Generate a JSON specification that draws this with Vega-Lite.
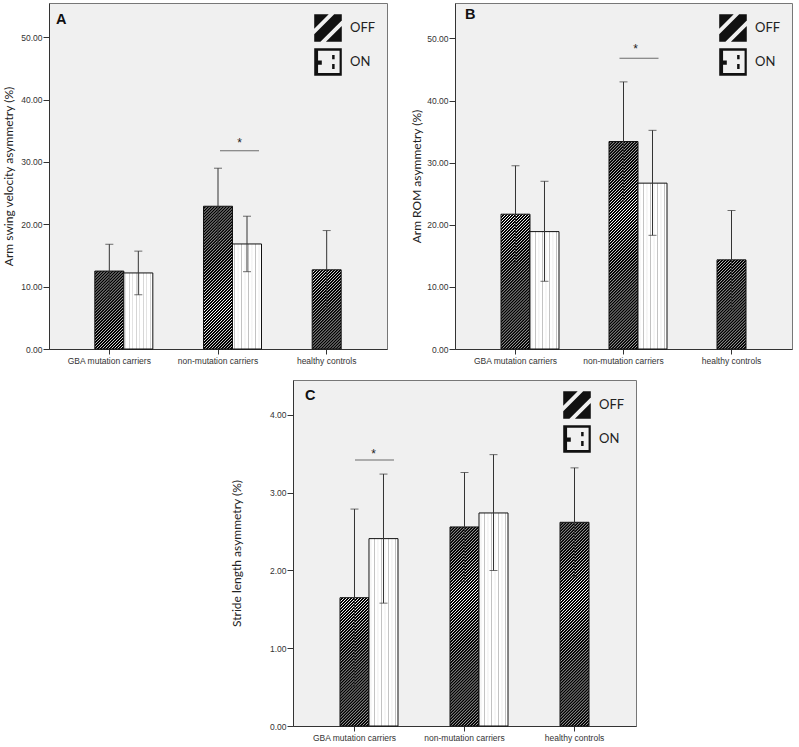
{
"$schema": "https://vega.github.io/schema/vega-lite/v6.json",
"background": "white",
"padding": {"left": 2, "top": 2, "right": 2, "bottom": 2},
"datasets": {
 "bars": [
  {"panel":"A","group":"GBA mutation carriers","cond":"OFF","mean":12.5,"lo":8.2,"hi":16.8},
  {"panel":"A","group":"GBA mutation carriers","cond":"ON","mean":12.2,"lo":8.7,"hi":15.7},
  {"panel":"A","group":"non-mutation carriers","cond":"OFF","mean":22.9,"lo":16.8,"hi":29.0},
  {"panel":"A","group":"non-mutation carriers","cond":"ON","mean":16.85,"lo":12.4,"hi":21.3},
  {"panel":"A","group":"healthy controls","cond":"OFF","mean":12.7,"lo":6.4,"hi":19.0},
  {"panel":"B","group":"GBA mutation carriers","cond":"OFF","mean":21.7,"lo":13.9,"hi":29.5},
  {"panel":"B","group":"GBA mutation carriers","cond":"ON","mean":18.9,"lo":10.9,"hi":27.0},
  {"panel":"B","group":"non-mutation carriers","cond":"OFF","mean":33.4,"lo":23.8,"hi":43.0},
  {"panel":"B","group":"non-mutation carriers","cond":"ON","mean":26.7,"lo":18.3,"hi":35.2},
  {"panel":"B","group":"healthy controls","cond":"OFF","mean":14.35,"lo":6.4,"hi":22.3},
  {"panel":"C","group":"GBA mutation carriers","cond":"OFF","mean":1.65,"lo":0.51,"hi":2.79},
  {"panel":"C","group":"GBA mutation carriers","cond":"ON","mean":2.41,"lo":1.58,"hi":3.24},
  {"panel":"C","group":"non-mutation carriers","cond":"OFF","mean":2.56,"lo":1.86,"hi":3.26},
  {"panel":"C","group":"non-mutation carriers","cond":"ON","mean":2.74,"lo":2.0,"hi":3.49},
  {"panel":"C","group":"healthy controls","cond":"OFF","mean":2.62,"lo":1.92,"hi":3.32}
 ],
 "sig": [
  {"panel":"A","group":"non-mutation carriers","line":31.8,"star":32.4,"label":"*"},
  {"panel":"B","group":"non-mutation carriers","line":46.8,"star":47.6,"label":"*"},
  {"panel":"C","group":"GBA mutation carriers","line":3.42,"star":3.45,"label":"*"}
 ]
},
"config": {
 "view": {"stroke": null},
 "axis": {"labelFont": "Liberation Sans", "labelFontSize": 8.5, "labelColor": "#333", "tickColor": "#333", "domainColor": "#333", "titleFont": "Lato", "titleFontSize": 12, "titleFontWeight": "normal", "titleColor": "#222", "grid": false},
 "axisX": {"labelAngle": 0, "tickSize": 5, "labelPadding": 2},
 "axisY": {"tickSize": 6, "labelPadding": 1},
 "legend": {"title": null, "orient": "top-right", "offset": 11, "padding": 0, "symbolSize": 760, "rowPadding": 6, "labelOffset": 8, "labelFont": "Lato", "labelFontSize": 13, "labelColor": "#222", "symbolStrokeWidth": 0},
 "title": {"anchor": "start", "frame": "group", "font": "Liberation Sans", "fontSize": 14.5, "fontWeight": "bold", "color": "#111", "baseline": "alphabetic"}
},
"spacing": 14,
"resolve": {"scale": {"shape": "independent"}, "legend": {"shape": "independent"}},
"vconcat": [
 {"hconcat": [
  {
   "width": 338, "height": 346,
   "view": {"fill": "#f0f0f0", "stroke": "#777"},
   "title": {"text": "A", "offset": -24, "dx": 7},
   "data": {"name": "bars"},
   "transform": [{"filter": "datum.panel === 'A'"}],
   "encoding": {"x": {"field": "group", "type": "nominal", "sort": ["GBA mutation carriers","non-mutation carriers","healthy controls"], "scale": {"paddingInner": 0, "paddingOuter": 0.055}, "axis": {"title": null}}},
   "layer": [
    {"transform": [{"filter": "datum.cond === 'OFF'"}], "mark": {"type": "bar", "width": 29, "color": {"gradient": "linear", "x1": 0, "y1": 0, "x2": 0.0905, "y2": 1.0765, "stops": [
{"offset":0,"color":"#000"},{"offset":0.004,"color":"#000"},{"offset":0.006,"color":"#fff"},{"offset":0.008,"color":"#000"},{"offset":0.012,"color":"#000"},{"offset":0.014,"color":"#fff"},{"offset":0.016,"color":"#000"},{"offset":0.02,"color":"#000"},{"offset":0.022,"color":"#fff"},{"offset":0.024,"color":"#000"},{"offset":0.028,"color":"#000"},{"offset":0.03,"color":"#fff"},{"offset":0.032,"color":"#000"},{"offset":0.036,"color":"#000"},{"offset":0.038,"color":"#fff"},{"offset":0.04,"color":"#000"},{"offset":0.044,"color":"#000"},{"offset":0.046,"color":"#fff"},{"offset":0.048,"color":"#000"},{"offset":0.052,"color":"#000"},{"offset":0.054,"color":"#fff"},{"offset":0.056,"color":"#000"},{"offset":0.06,"color":"#000"},{"offset":0.062,"color":"#fff"},{"offset":0.064,"color":"#000"},{"offset":0.068,"color":"#000"},{"offset":0.07,"color":"#fff"},{"offset":0.072,"color":"#000"},{"offset":0.076,"color":"#000"},{"offset":0.078,"color":"#fff"},{"offset":0.08,"color":"#000"},{"offset":0.084,"color":"#000"},{"offset":0.086,"color":"#fff"},{"offset":0.088,"color":"#000"},{"offset":0.092,"color":"#000"},{"offset":0.094,"color":"#fff"},{"offset":0.096,"color":"#000"},{"offset":0.1,"color":"#000"},{"offset":0.102,"color":"#fff"},{"offset":0.104,"color":"#000"},{"offset":0.108,"color":"#000"},{"offset":0.11,"color":"#fff"},{"offset":0.112,"color":"#000"},{"offset":0.116,"color":"#000"},{"offset":0.118,"color":"#fff"},{"offset":0.12,"color":"#000"},{"offset":0.124,"color":"#000"},{"offset":0.126,"color":"#fff"},{"offset":0.128,"color":"#000"},{"offset":0.132,"color":"#000"},{"offset":0.134,"color":"#fff"},{"offset":0.136,"color":"#000"},{"offset":0.14,"color":"#000"},{"offset":0.142,"color":"#fff"},{"offset":0.144,"color":"#000"},{"offset":0.148,"color":"#000"},{"offset":0.15,"color":"#fff"},{"offset":0.152,"color":"#000"},{"offset":0.156,"color":"#000"},{"offset":0.158,"color":"#fff"},{"offset":0.16,"color":"#000"},{"offset":0.164,"color":"#000"},{"offset":0.166,"color":"#fff"},{"offset":0.168,"color":"#000"},{"offset":0.172,"color":"#000"},{"offset":0.174,"color":"#fff"},{"offset":0.176,"color":"#000"},{"offset":0.18,"color":"#000"},{"offset":0.182,"color":"#fff"},{"offset":0.184,"color":"#000"},{"offset":0.188,"color":"#000"},{"offset":0.19,"color":"#fff"},{"offset":0.192,"color":"#000"},{"offset":0.196,"color":"#000"},{"offset":0.198,"color":"#fff"},
{"offset":0.2,"color":"#000"},{"offset":0.204,"color":"#000"},{"offset":0.206,"color":"#fff"},{"offset":0.208,"color":"#000"},{"offset":0.212,"color":"#000"},{"offset":0.214,"color":"#fff"},{"offset":0.216,"color":"#000"},{"offset":0.22,"color":"#000"},{"offset":0.222,"color":"#fff"},{"offset":0.224,"color":"#000"},{"offset":0.228,"color":"#000"},{"offset":0.23,"color":"#fff"},{"offset":0.232,"color":"#000"},{"offset":0.236,"color":"#000"},{"offset":0.238,"color":"#fff"},{"offset":0.24,"color":"#000"},{"offset":0.244,"color":"#000"},{"offset":0.246,"color":"#fff"},{"offset":0.248,"color":"#000"},{"offset":0.252,"color":"#000"},{"offset":0.254,"color":"#fff"},{"offset":0.256,"color":"#000"},{"offset":0.26,"color":"#000"},{"offset":0.262,"color":"#fff"},{"offset":0.264,"color":"#000"},{"offset":0.268,"color":"#000"},{"offset":0.27,"color":"#fff"},{"offset":0.272,"color":"#000"},{"offset":0.276,"color":"#000"},{"offset":0.278,"color":"#fff"},{"offset":0.28,"color":"#000"},{"offset":0.284,"color":"#000"},{"offset":0.286,"color":"#fff"},{"offset":0.288,"color":"#000"},{"offset":0.292,"color":"#000"},{"offset":0.294,"color":"#fff"},{"offset":0.296,"color":"#000"},{"offset":0.3,"color":"#000"},{"offset":0.302,"color":"#fff"},{"offset":0.304,"color":"#000"},{"offset":0.308,"color":"#000"},{"offset":0.31,"color":"#fff"},{"offset":0.312,"color":"#000"},{"offset":0.316,"color":"#000"},{"offset":0.318,"color":"#fff"},{"offset":0.32,"color":"#000"},{"offset":0.324,"color":"#000"},{"offset":0.326,"color":"#fff"},{"offset":0.328,"color":"#000"},{"offset":0.332,"color":"#000"},{"offset":0.334,"color":"#fff"},{"offset":0.336,"color":"#000"},{"offset":0.34,"color":"#000"},{"offset":0.342,"color":"#fff"},{"offset":0.344,"color":"#000"},{"offset":0.348,"color":"#000"},{"offset":0.35,"color":"#fff"},{"offset":0.352,"color":"#000"},{"offset":0.356,"color":"#000"},{"offset":0.358,"color":"#fff"},{"offset":0.36,"color":"#000"},{"offset":0.364,"color":"#000"},{"offset":0.366,"color":"#fff"},{"offset":0.368,"color":"#000"},{"offset":0.372,"color":"#000"},{"offset":0.374,"color":"#fff"},{"offset":0.376,"color":"#000"},{"offset":0.38,"color":"#000"},{"offset":0.382,"color":"#fff"},{"offset":0.384,"color":"#000"},{"offset":0.388,"color":"#000"},{"offset":0.39,"color":"#fff"},{"offset":0.392,"color":"#000"},{"offset":0.396,"color":"#000"},{"offset":0.398,"color":"#fff"},
{"offset":0.4,"color":"#000"},{"offset":0.404,"color":"#000"},{"offset":0.406,"color":"#fff"},{"offset":0.408,"color":"#000"},{"offset":0.412,"color":"#000"},{"offset":0.414,"color":"#fff"},{"offset":0.416,"color":"#000"},{"offset":0.42,"color":"#000"},{"offset":0.422,"color":"#fff"},{"offset":0.424,"color":"#000"},{"offset":0.428,"color":"#000"},{"offset":0.43,"color":"#fff"},{"offset":0.432,"color":"#000"},{"offset":0.436,"color":"#000"},{"offset":0.438,"color":"#fff"},{"offset":0.44,"color":"#000"},{"offset":0.444,"color":"#000"},{"offset":0.446,"color":"#fff"},{"offset":0.448,"color":"#000"},{"offset":0.452,"color":"#000"},{"offset":0.454,"color":"#fff"},{"offset":0.456,"color":"#000"},{"offset":0.46,"color":"#000"},{"offset":0.462,"color":"#fff"},{"offset":0.464,"color":"#000"},{"offset":0.468,"color":"#000"},{"offset":0.47,"color":"#fff"},{"offset":0.472,"color":"#000"},{"offset":0.476,"color":"#000"},{"offset":0.478,"color":"#fff"},{"offset":0.48,"color":"#000"},{"offset":0.484,"color":"#000"},{"offset":0.486,"color":"#fff"},{"offset":0.488,"color":"#000"},{"offset":0.492,"color":"#000"},{"offset":0.494,"color":"#fff"},{"offset":0.496,"color":"#000"},{"offset":0.5,"color":"#000"},{"offset":0.502,"color":"#fff"},{"offset":0.504,"color":"#000"},{"offset":0.508,"color":"#000"},{"offset":0.51,"color":"#fff"},{"offset":0.512,"color":"#000"},{"offset":0.516,"color":"#000"},{"offset":0.518,"color":"#fff"},{"offset":0.52,"color":"#000"},{"offset":0.524,"color":"#000"},{"offset":0.526,"color":"#fff"},{"offset":0.528,"color":"#000"},{"offset":0.532,"color":"#000"},{"offset":0.534,"color":"#fff"},{"offset":0.536,"color":"#000"},{"offset":0.54,"color":"#000"},{"offset":0.542,"color":"#fff"},{"offset":0.544,"color":"#000"},{"offset":0.548,"color":"#000"},{"offset":0.55,"color":"#fff"},{"offset":0.552,"color":"#000"},{"offset":0.556,"color":"#000"},{"offset":0.558,"color":"#fff"},{"offset":0.56,"color":"#000"},{"offset":0.564,"color":"#000"},{"offset":0.566,"color":"#fff"},{"offset":0.568,"color":"#000"},{"offset":0.572,"color":"#000"},{"offset":0.574,"color":"#fff"},{"offset":0.576,"color":"#000"},{"offset":0.58,"color":"#000"},{"offset":0.582,"color":"#fff"},{"offset":0.584,"color":"#000"},{"offset":0.588,"color":"#000"},{"offset":0.59,"color":"#fff"},{"offset":0.592,"color":"#000"},{"offset":0.596,"color":"#000"},{"offset":0.598,"color":"#fff"},
{"offset":0.6,"color":"#000"},{"offset":0.604,"color":"#000"},{"offset":0.606,"color":"#fff"},{"offset":0.608,"color":"#000"},{"offset":0.612,"color":"#000"},{"offset":0.614,"color":"#fff"},{"offset":0.616,"color":"#000"},{"offset":0.62,"color":"#000"},{"offset":0.622,"color":"#fff"},{"offset":0.624,"color":"#000"},{"offset":0.628,"color":"#000"},{"offset":0.63,"color":"#fff"},{"offset":0.632,"color":"#000"},{"offset":0.636,"color":"#000"},{"offset":0.638,"color":"#fff"},{"offset":0.64,"color":"#000"},{"offset":0.644,"color":"#000"},{"offset":0.646,"color":"#fff"},{"offset":0.648,"color":"#000"},{"offset":0.652,"color":"#000"},{"offset":0.654,"color":"#fff"},{"offset":0.656,"color":"#000"},{"offset":0.66,"color":"#000"},{"offset":0.662,"color":"#fff"},{"offset":0.664,"color":"#000"},{"offset":0.668,"color":"#000"},{"offset":0.67,"color":"#fff"},{"offset":0.672,"color":"#000"},{"offset":0.676,"color":"#000"},{"offset":0.678,"color":"#fff"},{"offset":0.68,"color":"#000"},{"offset":0.684,"color":"#000"},{"offset":0.686,"color":"#fff"},{"offset":0.688,"color":"#000"},{"offset":0.692,"color":"#000"},{"offset":0.694,"color":"#fff"},{"offset":0.696,"color":"#000"},{"offset":0.7,"color":"#000"},{"offset":0.702,"color":"#fff"},{"offset":0.704,"color":"#000"},{"offset":0.708,"color":"#000"},{"offset":0.71,"color":"#fff"},{"offset":0.712,"color":"#000"},{"offset":0.716,"color":"#000"},{"offset":0.718,"color":"#fff"},{"offset":0.72,"color":"#000"},{"offset":0.724,"color":"#000"},{"offset":0.726,"color":"#fff"},{"offset":0.728,"color":"#000"},{"offset":0.732,"color":"#000"},{"offset":0.734,"color":"#fff"},{"offset":0.736,"color":"#000"},{"offset":0.74,"color":"#000"},{"offset":0.742,"color":"#fff"},{"offset":0.744,"color":"#000"},{"offset":0.748,"color":"#000"},{"offset":0.75,"color":"#fff"},{"offset":0.752,"color":"#000"},{"offset":0.756,"color":"#000"},{"offset":0.758,"color":"#fff"},{"offset":0.76,"color":"#000"},{"offset":0.764,"color":"#000"},{"offset":0.766,"color":"#fff"},{"offset":0.768,"color":"#000"},{"offset":0.772,"color":"#000"},{"offset":0.774,"color":"#fff"},{"offset":0.776,"color":"#000"},{"offset":0.78,"color":"#000"},{"offset":0.782,"color":"#fff"},{"offset":0.784,"color":"#000"},{"offset":0.788,"color":"#000"},{"offset":0.79,"color":"#fff"},{"offset":0.792,"color":"#000"},{"offset":0.796,"color":"#000"},{"offset":0.798,"color":"#fff"},
{"offset":0.8,"color":"#000"},{"offset":0.804,"color":"#000"},{"offset":0.806,"color":"#fff"},{"offset":0.808,"color":"#000"},{"offset":0.812,"color":"#000"},{"offset":0.814,"color":"#fff"},{"offset":0.816,"color":"#000"},{"offset":0.82,"color":"#000"},{"offset":0.822,"color":"#fff"},{"offset":0.824,"color":"#000"},{"offset":0.828,"color":"#000"},{"offset":0.83,"color":"#fff"},{"offset":0.832,"color":"#000"},{"offset":0.836,"color":"#000"},{"offset":0.838,"color":"#fff"},{"offset":0.84,"color":"#000"},{"offset":0.844,"color":"#000"},{"offset":0.846,"color":"#fff"},{"offset":0.848,"color":"#000"},{"offset":0.852,"color":"#000"},{"offset":0.854,"color":"#fff"},{"offset":0.856,"color":"#000"},{"offset":0.86,"color":"#000"},{"offset":0.862,"color":"#fff"},{"offset":0.864,"color":"#000"},{"offset":0.868,"color":"#000"},{"offset":0.87,"color":"#fff"},{"offset":0.872,"color":"#000"},{"offset":0.876,"color":"#000"},{"offset":0.878,"color":"#fff"},{"offset":0.88,"color":"#000"},{"offset":0.884,"color":"#000"},{"offset":0.886,"color":"#fff"},{"offset":0.888,"color":"#000"},{"offset":0.892,"color":"#000"},{"offset":0.894,"color":"#fff"},{"offset":0.896,"color":"#000"},{"offset":0.9,"color":"#000"},{"offset":0.902,"color":"#fff"},{"offset":0.904,"color":"#000"},{"offset":0.908,"color":"#000"},{"offset":0.91,"color":"#fff"},{"offset":0.912,"color":"#000"},{"offset":0.916,"color":"#000"},{"offset":0.918,"color":"#fff"},{"offset":0.92,"color":"#000"},{"offset":0.924,"color":"#000"},{"offset":0.926,"color":"#fff"},{"offset":0.928,"color":"#000"},{"offset":0.932,"color":"#000"},{"offset":0.934,"color":"#fff"},{"offset":0.936,"color":"#000"},{"offset":0.94,"color":"#000"},{"offset":0.942,"color":"#fff"},{"offset":0.944,"color":"#000"},{"offset":0.948,"color":"#000"},{"offset":0.95,"color":"#fff"},{"offset":0.952,"color":"#000"},{"offset":0.956,"color":"#000"},{"offset":0.958,"color":"#fff"},{"offset":0.96,"color":"#000"},{"offset":0.964,"color":"#000"},{"offset":0.966,"color":"#fff"},{"offset":0.968,"color":"#000"},{"offset":0.972,"color":"#000"},{"offset":0.974,"color":"#fff"},{"offset":0.976,"color":"#000"},{"offset":0.98,"color":"#000"},{"offset":0.982,"color":"#fff"},{"offset":0.984,"color":"#000"},{"offset":0.988,"color":"#000"},{"offset":0.99,"color":"#fff"},{"offset":0.992,"color":"#000"},{"offset":0.996,"color":"#000"},{"offset":0.998,"color":"#fff"},
{"offset":1,"color":"#000"}
    ]}}, "encoding": {"y": {"datum": 55.2, "type": "quantitative", "title": "Arm swing velocity asymmetry (%)", "scale": {"domain": [0, 55.5], "nice": false}, "axis": {"values": [0,10,20,30,40,50], "format": ".2f", "titlePadding": 5}}, "y2": {"datum": 0}}},
    {"transform": [{"filter": "datum.cond === 'OFF'"}], "mark": {"type": "bar", "width": 31, "color": "#f0f0f0"}, "encoding": {"y": {"field": "mean", "type": "quantitative", "title": "Arm swing velocity asymmetry (%)"}, "y2": {"datum": 55.33}}},
    {"transform": [{"filter": "datum.cond === 'OFF'"}], "mark": {"type": "bar", "width": 29, "fillOpacity": 0, "stroke": "#111", "strokeWidth": 1}, "encoding": {"y": {"field": "mean", "type": "quantitative", "title": "Arm swing velocity asymmetry (%)"}}},
    {"transform": [{"filter": "datum.cond === 'ON'"}], "mark": {"type": "bar", "width": 29, "xOffset": 29, "stroke": "#111", "strokeWidth": 1, "color": {"gradient": "linear", "x1": 0, "y1": 0, "x2": 1, "y2": 0, "stops": [
{"offset":0,"color":"#fff"},{"offset":0.049,"color":"#fff"},{"offset":0.069,"color":"#c2c2c2"},{"offset":0.089,"color":"#fff"},{"offset":0.17,"color":"#fff"},{"offset":0.19,"color":"#c2c2c2"},{"offset":0.21,"color":"#fff"},{"offset":0.29,"color":"#fff"},{"offset":0.31,"color":"#c2c2c2"},{"offset":0.33,"color":"#fff"},{"offset":0.411,"color":"#fff"},{"offset":0.431,"color":"#c2c2c2"},{"offset":0.451,"color":"#fff"},{"offset":0.532,"color":"#fff"},{"offset":0.552,"color":"#c2c2c2"},{"offset":0.572,"color":"#fff"},{"offset":0.652,"color":"#fff"},{"offset":0.672,"color":"#c2c2c2"},{"offset":0.692,"color":"#fff"},{"offset":0.773,"color":"#fff"},{"offset":0.793,"color":"#c2c2c2"},{"offset":0.813,"color":"#fff"},{"offset":0.894,"color":"#fff"},{"offset":0.914,"color":"#c2c2c2"},{"offset":0.934,"color":"#fff"},{"offset":1,"color":"#fff"}
    ]}}, "encoding": {"y": {"field": "mean", "type": "quantitative", "title": "Arm swing velocity asymmetry (%)"}}},
    {"transform": [{"filter": "datum.cond === 'OFF'"}], "mark": {"type": "rule", "color": "#333", "strokeWidth": 1}, "encoding": {"y": {"field": "lo", "type": "quantitative", "title": "Arm swing velocity asymmetry (%)"}, "y2": {"field": "hi"}}},
    {"transform": [{"filter": "datum.cond === 'OFF'"}], "mark": {"type": "tick", "orient": "horizontal", "size": 8, "thickness": 1, "color": "#333"}, "encoding": {"y": {"field": "hi", "type": "quantitative", "title": "Arm swing velocity asymmetry (%)"}}},
    {"transform": [{"filter": "datum.cond === 'OFF'"}], "mark": {"type": "tick", "orient": "horizontal", "size": 8, "thickness": 1, "color": "#333"}, "encoding": {"y": {"field": "lo", "type": "quantitative", "title": "Arm swing velocity asymmetry (%)"}}},
    {"transform": [{"filter": "datum.cond === 'ON'"}], "mark": {"type": "rule", "color": "#333", "strokeWidth": 1, "xOffset": 29}, "encoding": {"y": {"field": "lo", "type": "quantitative", "title": "Arm swing velocity asymmetry (%)"}, "y2": {"field": "hi"}}},
    {"transform": [{"filter": "datum.cond === 'ON'"}], "mark": {"type": "tick", "orient": "horizontal", "size": 8, "thickness": 1, "color": "#333", "xOffset": 29}, "encoding": {"y": {"field": "hi", "type": "quantitative", "title": "Arm swing velocity asymmetry (%)"}}},
    {"transform": [{"filter": "datum.cond === 'ON'"}], "mark": {"type": "tick", "orient": "horizontal", "size": 8, "thickness": 1, "color": "#333", "xOffset": 29}, "encoding": {"y": {"field": "lo", "type": "quantitative", "title": "Arm swing velocity asymmetry (%)"}}},
    {"data": {"name": "sig"}, "transform": [{"filter": "datum.panel === 'A'"}], "mark": {"type": "tick", "orient": "horizontal", "size": 39, "thickness": 1, "color": "#333", "xOffset": 21.5}, "encoding": {"y": {"field": "line", "type": "quantitative", "title": "Arm swing velocity asymmetry (%)"}}},
    {"data": {"name": "sig"}, "transform": [{"filter": "datum.panel === 'A'"}], "mark": {"type": "text", "font": "Liberation Sans", "fontSize": 12, "baseline": "alphabetic", "color": "#222", "xOffset": 21.5}, "encoding": {"y": {"field": "star", "type": "quantitative", "title": "Arm swing velocity asymmetry (%)"}, "text": {"field": "label"}}},
    {"mark": {"type": "point", "filled": true, "size": 0, "color": "#111", "opacity": 1}, "encoding": {"shape": {"field": "cond", "type": "nominal", "scale": {"domain": ["OFF","ON"], "range": ["M-1,-1H1V1H-1Z M-1,0.05L-1,0.45L0.45,-1L0.05,-1Z M1,-0.55L-0.55,1L-0.15,1L1,-0.15Z", "M-1,-1H1V1H-1Z M-0.72,-0.82V0.8H0.84V-0.82Z M-0.72,-0.1H-0.45V0.2H-0.72Z M0.3,-0.5H0.48V-0.2H0.3Z M0.3,0.15H0.48V0.5H0.3Z"]}}}}
   ]
  },
  {
   "width": 337, "height": 346,
   "view": {"fill": "#f0f0f0", "stroke": "#777"},
   "title": {"text": "B", "offset": -19, "dx": 10},
   "data": {"name": "bars"},
   "transform": [{"filter": "datum.panel === 'B'"}],
   "encoding": {"x": {"field": "group", "type": "nominal", "sort": ["GBA mutation carriers","non-mutation carriers","healthy controls"], "scale": {"paddingInner": 0, "paddingOuter": 0.06}, "axis": {"title": null}}},
   "layer": [
    {"transform": [{"filter": "datum.cond === 'OFF'"}], "mark": {"type": "bar", "width": 29, "color": {"gradient": "linear", "x1": 0, "y1": 0, "x2": 0.0905, "y2": 1.0765, "stops": [
{"offset":0,"color":"#000"},{"offset":0.004,"color":"#000"},{"offset":0.006,"color":"#fff"},{"offset":0.008,"color":"#000"},{"offset":0.012,"color":"#000"},{"offset":0.014,"color":"#fff"},{"offset":0.016,"color":"#000"},{"offset":0.02,"color":"#000"},{"offset":0.022,"color":"#fff"},{"offset":0.024,"color":"#000"},{"offset":0.028,"color":"#000"},{"offset":0.03,"color":"#fff"},{"offset":0.032,"color":"#000"},{"offset":0.036,"color":"#000"},{"offset":0.038,"color":"#fff"},{"offset":0.04,"color":"#000"},{"offset":0.044,"color":"#000"},{"offset":0.046,"color":"#fff"},{"offset":0.048,"color":"#000"},{"offset":0.052,"color":"#000"},{"offset":0.054,"color":"#fff"},{"offset":0.056,"color":"#000"},{"offset":0.06,"color":"#000"},{"offset":0.062,"color":"#fff"},{"offset":0.064,"color":"#000"},{"offset":0.068,"color":"#000"},{"offset":0.07,"color":"#fff"},{"offset":0.072,"color":"#000"},{"offset":0.076,"color":"#000"},{"offset":0.078,"color":"#fff"},{"offset":0.08,"color":"#000"},{"offset":0.084,"color":"#000"},{"offset":0.086,"color":"#fff"},{"offset":0.088,"color":"#000"},{"offset":0.092,"color":"#000"},{"offset":0.094,"color":"#fff"},{"offset":0.096,"color":"#000"},{"offset":0.1,"color":"#000"},{"offset":0.102,"color":"#fff"},{"offset":0.104,"color":"#000"},{"offset":0.108,"color":"#000"},{"offset":0.11,"color":"#fff"},{"offset":0.112,"color":"#000"},{"offset":0.116,"color":"#000"},{"offset":0.118,"color":"#fff"},{"offset":0.12,"color":"#000"},{"offset":0.124,"color":"#000"},{"offset":0.126,"color":"#fff"},{"offset":0.128,"color":"#000"},{"offset":0.132,"color":"#000"},{"offset":0.134,"color":"#fff"},{"offset":0.136,"color":"#000"},{"offset":0.14,"color":"#000"},{"offset":0.142,"color":"#fff"},{"offset":0.144,"color":"#000"},{"offset":0.148,"color":"#000"},{"offset":0.15,"color":"#fff"},{"offset":0.152,"color":"#000"},{"offset":0.156,"color":"#000"},{"offset":0.158,"color":"#fff"},{"offset":0.16,"color":"#000"},{"offset":0.164,"color":"#000"},{"offset":0.166,"color":"#fff"},{"offset":0.168,"color":"#000"},{"offset":0.172,"color":"#000"},{"offset":0.174,"color":"#fff"},{"offset":0.176,"color":"#000"},{"offset":0.18,"color":"#000"},{"offset":0.182,"color":"#fff"},{"offset":0.184,"color":"#000"},{"offset":0.188,"color":"#000"},{"offset":0.19,"color":"#fff"},{"offset":0.192,"color":"#000"},{"offset":0.196,"color":"#000"},{"offset":0.198,"color":"#fff"},
{"offset":0.2,"color":"#000"},{"offset":0.204,"color":"#000"},{"offset":0.206,"color":"#fff"},{"offset":0.208,"color":"#000"},{"offset":0.212,"color":"#000"},{"offset":0.214,"color":"#fff"},{"offset":0.216,"color":"#000"},{"offset":0.22,"color":"#000"},{"offset":0.222,"color":"#fff"},{"offset":0.224,"color":"#000"},{"offset":0.228,"color":"#000"},{"offset":0.23,"color":"#fff"},{"offset":0.232,"color":"#000"},{"offset":0.236,"color":"#000"},{"offset":0.238,"color":"#fff"},{"offset":0.24,"color":"#000"},{"offset":0.244,"color":"#000"},{"offset":0.246,"color":"#fff"},{"offset":0.248,"color":"#000"},{"offset":0.252,"color":"#000"},{"offset":0.254,"color":"#fff"},{"offset":0.256,"color":"#000"},{"offset":0.26,"color":"#000"},{"offset":0.262,"color":"#fff"},{"offset":0.264,"color":"#000"},{"offset":0.268,"color":"#000"},{"offset":0.27,"color":"#fff"},{"offset":0.272,"color":"#000"},{"offset":0.276,"color":"#000"},{"offset":0.278,"color":"#fff"},{"offset":0.28,"color":"#000"},{"offset":0.284,"color":"#000"},{"offset":0.286,"color":"#fff"},{"offset":0.288,"color":"#000"},{"offset":0.292,"color":"#000"},{"offset":0.294,"color":"#fff"},{"offset":0.296,"color":"#000"},{"offset":0.3,"color":"#000"},{"offset":0.302,"color":"#fff"},{"offset":0.304,"color":"#000"},{"offset":0.308,"color":"#000"},{"offset":0.31,"color":"#fff"},{"offset":0.312,"color":"#000"},{"offset":0.316,"color":"#000"},{"offset":0.318,"color":"#fff"},{"offset":0.32,"color":"#000"},{"offset":0.324,"color":"#000"},{"offset":0.326,"color":"#fff"},{"offset":0.328,"color":"#000"},{"offset":0.332,"color":"#000"},{"offset":0.334,"color":"#fff"},{"offset":0.336,"color":"#000"},{"offset":0.34,"color":"#000"},{"offset":0.342,"color":"#fff"},{"offset":0.344,"color":"#000"},{"offset":0.348,"color":"#000"},{"offset":0.35,"color":"#fff"},{"offset":0.352,"color":"#000"},{"offset":0.356,"color":"#000"},{"offset":0.358,"color":"#fff"},{"offset":0.36,"color":"#000"},{"offset":0.364,"color":"#000"},{"offset":0.366,"color":"#fff"},{"offset":0.368,"color":"#000"},{"offset":0.372,"color":"#000"},{"offset":0.374,"color":"#fff"},{"offset":0.376,"color":"#000"},{"offset":0.38,"color":"#000"},{"offset":0.382,"color":"#fff"},{"offset":0.384,"color":"#000"},{"offset":0.388,"color":"#000"},{"offset":0.39,"color":"#fff"},{"offset":0.392,"color":"#000"},{"offset":0.396,"color":"#000"},{"offset":0.398,"color":"#fff"},
{"offset":0.4,"color":"#000"},{"offset":0.404,"color":"#000"},{"offset":0.406,"color":"#fff"},{"offset":0.408,"color":"#000"},{"offset":0.412,"color":"#000"},{"offset":0.414,"color":"#fff"},{"offset":0.416,"color":"#000"},{"offset":0.42,"color":"#000"},{"offset":0.422,"color":"#fff"},{"offset":0.424,"color":"#000"},{"offset":0.428,"color":"#000"},{"offset":0.43,"color":"#fff"},{"offset":0.432,"color":"#000"},{"offset":0.436,"color":"#000"},{"offset":0.438,"color":"#fff"},{"offset":0.44,"color":"#000"},{"offset":0.444,"color":"#000"},{"offset":0.446,"color":"#fff"},{"offset":0.448,"color":"#000"},{"offset":0.452,"color":"#000"},{"offset":0.454,"color":"#fff"},{"offset":0.456,"color":"#000"},{"offset":0.46,"color":"#000"},{"offset":0.462,"color":"#fff"},{"offset":0.464,"color":"#000"},{"offset":0.468,"color":"#000"},{"offset":0.47,"color":"#fff"},{"offset":0.472,"color":"#000"},{"offset":0.476,"color":"#000"},{"offset":0.478,"color":"#fff"},{"offset":0.48,"color":"#000"},{"offset":0.484,"color":"#000"},{"offset":0.486,"color":"#fff"},{"offset":0.488,"color":"#000"},{"offset":0.492,"color":"#000"},{"offset":0.494,"color":"#fff"},{"offset":0.496,"color":"#000"},{"offset":0.5,"color":"#000"},{"offset":0.502,"color":"#fff"},{"offset":0.504,"color":"#000"},{"offset":0.508,"color":"#000"},{"offset":0.51,"color":"#fff"},{"offset":0.512,"color":"#000"},{"offset":0.516,"color":"#000"},{"offset":0.518,"color":"#fff"},{"offset":0.52,"color":"#000"},{"offset":0.524,"color":"#000"},{"offset":0.526,"color":"#fff"},{"offset":0.528,"color":"#000"},{"offset":0.532,"color":"#000"},{"offset":0.534,"color":"#fff"},{"offset":0.536,"color":"#000"},{"offset":0.54,"color":"#000"},{"offset":0.542,"color":"#fff"},{"offset":0.544,"color":"#000"},{"offset":0.548,"color":"#000"},{"offset":0.55,"color":"#fff"},{"offset":0.552,"color":"#000"},{"offset":0.556,"color":"#000"},{"offset":0.558,"color":"#fff"},{"offset":0.56,"color":"#000"},{"offset":0.564,"color":"#000"},{"offset":0.566,"color":"#fff"},{"offset":0.568,"color":"#000"},{"offset":0.572,"color":"#000"},{"offset":0.574,"color":"#fff"},{"offset":0.576,"color":"#000"},{"offset":0.58,"color":"#000"},{"offset":0.582,"color":"#fff"},{"offset":0.584,"color":"#000"},{"offset":0.588,"color":"#000"},{"offset":0.59,"color":"#fff"},{"offset":0.592,"color":"#000"},{"offset":0.596,"color":"#000"},{"offset":0.598,"color":"#fff"},
{"offset":0.6,"color":"#000"},{"offset":0.604,"color":"#000"},{"offset":0.606,"color":"#fff"},{"offset":0.608,"color":"#000"},{"offset":0.612,"color":"#000"},{"offset":0.614,"color":"#fff"},{"offset":0.616,"color":"#000"},{"offset":0.62,"color":"#000"},{"offset":0.622,"color":"#fff"},{"offset":0.624,"color":"#000"},{"offset":0.628,"color":"#000"},{"offset":0.63,"color":"#fff"},{"offset":0.632,"color":"#000"},{"offset":0.636,"color":"#000"},{"offset":0.638,"color":"#fff"},{"offset":0.64,"color":"#000"},{"offset":0.644,"color":"#000"},{"offset":0.646,"color":"#fff"},{"offset":0.648,"color":"#000"},{"offset":0.652,"color":"#000"},{"offset":0.654,"color":"#fff"},{"offset":0.656,"color":"#000"},{"offset":0.66,"color":"#000"},{"offset":0.662,"color":"#fff"},{"offset":0.664,"color":"#000"},{"offset":0.668,"color":"#000"},{"offset":0.67,"color":"#fff"},{"offset":0.672,"color":"#000"},{"offset":0.676,"color":"#000"},{"offset":0.678,"color":"#fff"},{"offset":0.68,"color":"#000"},{"offset":0.684,"color":"#000"},{"offset":0.686,"color":"#fff"},{"offset":0.688,"color":"#000"},{"offset":0.692,"color":"#000"},{"offset":0.694,"color":"#fff"},{"offset":0.696,"color":"#000"},{"offset":0.7,"color":"#000"},{"offset":0.702,"color":"#fff"},{"offset":0.704,"color":"#000"},{"offset":0.708,"color":"#000"},{"offset":0.71,"color":"#fff"},{"offset":0.712,"color":"#000"},{"offset":0.716,"color":"#000"},{"offset":0.718,"color":"#fff"},{"offset":0.72,"color":"#000"},{"offset":0.724,"color":"#000"},{"offset":0.726,"color":"#fff"},{"offset":0.728,"color":"#000"},{"offset":0.732,"color":"#000"},{"offset":0.734,"color":"#fff"},{"offset":0.736,"color":"#000"},{"offset":0.74,"color":"#000"},{"offset":0.742,"color":"#fff"},{"offset":0.744,"color":"#000"},{"offset":0.748,"color":"#000"},{"offset":0.75,"color":"#fff"},{"offset":0.752,"color":"#000"},{"offset":0.756,"color":"#000"},{"offset":0.758,"color":"#fff"},{"offset":0.76,"color":"#000"},{"offset":0.764,"color":"#000"},{"offset":0.766,"color":"#fff"},{"offset":0.768,"color":"#000"},{"offset":0.772,"color":"#000"},{"offset":0.774,"color":"#fff"},{"offset":0.776,"color":"#000"},{"offset":0.78,"color":"#000"},{"offset":0.782,"color":"#fff"},{"offset":0.784,"color":"#000"},{"offset":0.788,"color":"#000"},{"offset":0.79,"color":"#fff"},{"offset":0.792,"color":"#000"},{"offset":0.796,"color":"#000"},{"offset":0.798,"color":"#fff"},
{"offset":0.8,"color":"#000"},{"offset":0.804,"color":"#000"},{"offset":0.806,"color":"#fff"},{"offset":0.808,"color":"#000"},{"offset":0.812,"color":"#000"},{"offset":0.814,"color":"#fff"},{"offset":0.816,"color":"#000"},{"offset":0.82,"color":"#000"},{"offset":0.822,"color":"#fff"},{"offset":0.824,"color":"#000"},{"offset":0.828,"color":"#000"},{"offset":0.83,"color":"#fff"},{"offset":0.832,"color":"#000"},{"offset":0.836,"color":"#000"},{"offset":0.838,"color":"#fff"},{"offset":0.84,"color":"#000"},{"offset":0.844,"color":"#000"},{"offset":0.846,"color":"#fff"},{"offset":0.848,"color":"#000"},{"offset":0.852,"color":"#000"},{"offset":0.854,"color":"#fff"},{"offset":0.856,"color":"#000"},{"offset":0.86,"color":"#000"},{"offset":0.862,"color":"#fff"},{"offset":0.864,"color":"#000"},{"offset":0.868,"color":"#000"},{"offset":0.87,"color":"#fff"},{"offset":0.872,"color":"#000"},{"offset":0.876,"color":"#000"},{"offset":0.878,"color":"#fff"},{"offset":0.88,"color":"#000"},{"offset":0.884,"color":"#000"},{"offset":0.886,"color":"#fff"},{"offset":0.888,"color":"#000"},{"offset":0.892,"color":"#000"},{"offset":0.894,"color":"#fff"},{"offset":0.896,"color":"#000"},{"offset":0.9,"color":"#000"},{"offset":0.902,"color":"#fff"},{"offset":0.904,"color":"#000"},{"offset":0.908,"color":"#000"},{"offset":0.91,"color":"#fff"},{"offset":0.912,"color":"#000"},{"offset":0.916,"color":"#000"},{"offset":0.918,"color":"#fff"},{"offset":0.92,"color":"#000"},{"offset":0.924,"color":"#000"},{"offset":0.926,"color":"#fff"},{"offset":0.928,"color":"#000"},{"offset":0.932,"color":"#000"},{"offset":0.934,"color":"#fff"},{"offset":0.936,"color":"#000"},{"offset":0.94,"color":"#000"},{"offset":0.942,"color":"#fff"},{"offset":0.944,"color":"#000"},{"offset":0.948,"color":"#000"},{"offset":0.95,"color":"#fff"},{"offset":0.952,"color":"#000"},{"offset":0.956,"color":"#000"},{"offset":0.958,"color":"#fff"},{"offset":0.96,"color":"#000"},{"offset":0.964,"color":"#000"},{"offset":0.966,"color":"#fff"},{"offset":0.968,"color":"#000"},{"offset":0.972,"color":"#000"},{"offset":0.974,"color":"#fff"},{"offset":0.976,"color":"#000"},{"offset":0.98,"color":"#000"},{"offset":0.982,"color":"#fff"},{"offset":0.984,"color":"#000"},{"offset":0.988,"color":"#000"},{"offset":0.99,"color":"#fff"},{"offset":0.992,"color":"#000"},{"offset":0.996,"color":"#000"},{"offset":0.998,"color":"#fff"},
{"offset":1,"color":"#000"}
    ]}}, "encoding": {"y": {"datum": 55.4, "type": "quantitative", "title": "Arm ROM asymmetry (%)", "scale": {"domain": [0, 55.7], "nice": false}, "axis": {"values": [0,10,20,30,40,50], "format": ".2f", "titlePadding": 3}}, "y2": {"datum": 0}}},
    {"transform": [{"filter": "datum.cond === 'OFF'"}], "mark": {"type": "bar", "width": 31, "color": "#f0f0f0"}, "encoding": {"y": {"field": "mean", "type": "quantitative", "title": "Arm ROM asymmetry (%)"}, "y2": {"datum": 55.53}}},
    {"transform": [{"filter": "datum.cond === 'OFF'"}], "mark": {"type": "bar", "width": 29, "fillOpacity": 0, "stroke": "#111", "strokeWidth": 1}, "encoding": {"y": {"field": "mean", "type": "quantitative", "title": "Arm ROM asymmetry (%)"}}},
    {"transform": [{"filter": "datum.cond === 'ON'"}], "mark": {"type": "bar", "width": 29, "xOffset": 29, "stroke": "#111", "strokeWidth": 1, "color": {"gradient": "linear", "x1": 0, "y1": 0, "x2": 1, "y2": 0, "stops": [
{"offset":0,"color":"#fff"},{"offset":0.049,"color":"#fff"},{"offset":0.069,"color":"#c2c2c2"},{"offset":0.089,"color":"#fff"},{"offset":0.17,"color":"#fff"},{"offset":0.19,"color":"#c2c2c2"},{"offset":0.21,"color":"#fff"},{"offset":0.29,"color":"#fff"},{"offset":0.31,"color":"#c2c2c2"},{"offset":0.33,"color":"#fff"},{"offset":0.411,"color":"#fff"},{"offset":0.431,"color":"#c2c2c2"},{"offset":0.451,"color":"#fff"},{"offset":0.532,"color":"#fff"},{"offset":0.552,"color":"#c2c2c2"},{"offset":0.572,"color":"#fff"},{"offset":0.652,"color":"#fff"},{"offset":0.672,"color":"#c2c2c2"},{"offset":0.692,"color":"#fff"},{"offset":0.773,"color":"#fff"},{"offset":0.793,"color":"#c2c2c2"},{"offset":0.813,"color":"#fff"},{"offset":0.894,"color":"#fff"},{"offset":0.914,"color":"#c2c2c2"},{"offset":0.934,"color":"#fff"},{"offset":1,"color":"#fff"}
    ]}}, "encoding": {"y": {"field": "mean", "type": "quantitative", "title": "Arm ROM asymmetry (%)"}}},
    {"transform": [{"filter": "datum.cond === 'OFF'"}], "mark": {"type": "rule", "color": "#333", "strokeWidth": 1}, "encoding": {"y": {"field": "lo", "type": "quantitative", "title": "Arm ROM asymmetry (%)"}, "y2": {"field": "hi"}}},
    {"transform": [{"filter": "datum.cond === 'OFF'"}], "mark": {"type": "tick", "orient": "horizontal", "size": 8, "thickness": 1, "color": "#333"}, "encoding": {"y": {"field": "hi", "type": "quantitative", "title": "Arm ROM asymmetry (%)"}}},
    {"transform": [{"filter": "datum.cond === 'OFF'"}], "mark": {"type": "tick", "orient": "horizontal", "size": 8, "thickness": 1, "color": "#333"}, "encoding": {"y": {"field": "lo", "type": "quantitative", "title": "Arm ROM asymmetry (%)"}}},
    {"transform": [{"filter": "datum.cond === 'ON'"}], "mark": {"type": "rule", "color": "#333", "strokeWidth": 1, "xOffset": 29}, "encoding": {"y": {"field": "lo", "type": "quantitative", "title": "Arm ROM asymmetry (%)"}, "y2": {"field": "hi"}}},
    {"transform": [{"filter": "datum.cond === 'ON'"}], "mark": {"type": "tick", "orient": "horizontal", "size": 8, "thickness": 1, "color": "#333", "xOffset": 29}, "encoding": {"y": {"field": "hi", "type": "quantitative", "title": "Arm ROM asymmetry (%)"}}},
    {"transform": [{"filter": "datum.cond === 'ON'"}], "mark": {"type": "tick", "orient": "horizontal", "size": 8, "thickness": 1, "color": "#333", "xOffset": 29}, "encoding": {"y": {"field": "lo", "type": "quantitative", "title": "Arm ROM asymmetry (%)"}}},
    {"data": {"name": "sig"}, "transform": [{"filter": "datum.panel === 'B'"}], "mark": {"type": "tick", "orient": "horizontal", "size": 39, "thickness": 1, "color": "#333", "xOffset": 15.5}, "encoding": {"y": {"field": "line", "type": "quantitative", "title": "Arm ROM asymmetry (%)"}}},
    {"data": {"name": "sig"}, "transform": [{"filter": "datum.panel === 'B'"}], "mark": {"type": "text", "font": "Liberation Sans", "fontSize": 12, "baseline": "alphabetic", "color": "#222", "xOffset": 12}, "encoding": {"y": {"field": "star", "type": "quantitative", "title": "Arm ROM asymmetry (%)"}, "text": {"field": "label"}}},
    {"mark": {"type": "point", "filled": true, "size": 0, "color": "#111", "opacity": 1}, "encoding": {"shape": {"field": "cond", "type": "nominal", "scale": {"domain": ["OFF","ON"], "range": ["M-1,-1H1V1H-1Z M-1,0.05L-1,0.45L0.45,-1L0.05,-1Z M1,-0.55L-0.55,1L-0.15,1L1,-0.15Z", "M-1,-1H1V1H-1Z M-0.72,-0.82V0.8H0.84V-0.82Z M-0.72,-0.1H-0.45V0.2H-0.72Z M0.3,-0.5H0.48V-0.2H0.3Z M0.3,0.15H0.48V0.5H0.3Z"]}}}}
   ]
  }
 ], "spacing": 22, "resolve": {"scale": {"shape": "independent"}, "legend": {"shape": "independent"}}},
 {"hconcat": [
  {"width": 160, "height": 10, "data": {"values": []}, "mark": "point"},
  {
   "width": 343, "height": 346,
   "view": {"fill": "#f0f0f0", "stroke": "#777"},
   "title": {"text": "C", "offset": -23, "dx": 12},
   "data": {"name": "bars"},
   "transform": [{"filter": "datum.panel === 'C'"}],
   "encoding": {"x": {"field": "group", "type": "nominal", "sort": ["GBA mutation carriers","non-mutation carriers","healthy controls"], "scale": {"paddingInner": 0, "paddingOuter": 0.059}, "axis": {"title": null}}},
   "layer": [
    {"transform": [{"filter": "datum.cond === 'OFF'"}], "mark": {"type": "bar", "width": 29, "color": {"gradient": "linear", "x1": 0, "y1": 0, "x2": 0.0905, "y2": 1.0765, "stops": [
{"offset":0,"color":"#000"},{"offset":0.004,"color":"#000"},{"offset":0.006,"color":"#fff"},{"offset":0.008,"color":"#000"},{"offset":0.012,"color":"#000"},{"offset":0.014,"color":"#fff"},{"offset":0.016,"color":"#000"},{"offset":0.02,"color":"#000"},{"offset":0.022,"color":"#fff"},{"offset":0.024,"color":"#000"},{"offset":0.028,"color":"#000"},{"offset":0.03,"color":"#fff"},{"offset":0.032,"color":"#000"},{"offset":0.036,"color":"#000"},{"offset":0.038,"color":"#fff"},{"offset":0.04,"color":"#000"},{"offset":0.044,"color":"#000"},{"offset":0.046,"color":"#fff"},{"offset":0.048,"color":"#000"},{"offset":0.052,"color":"#000"},{"offset":0.054,"color":"#fff"},{"offset":0.056,"color":"#000"},{"offset":0.06,"color":"#000"},{"offset":0.062,"color":"#fff"},{"offset":0.064,"color":"#000"},{"offset":0.068,"color":"#000"},{"offset":0.07,"color":"#fff"},{"offset":0.072,"color":"#000"},{"offset":0.076,"color":"#000"},{"offset":0.078,"color":"#fff"},{"offset":0.08,"color":"#000"},{"offset":0.084,"color":"#000"},{"offset":0.086,"color":"#fff"},{"offset":0.088,"color":"#000"},{"offset":0.092,"color":"#000"},{"offset":0.094,"color":"#fff"},{"offset":0.096,"color":"#000"},{"offset":0.1,"color":"#000"},{"offset":0.102,"color":"#fff"},{"offset":0.104,"color":"#000"},{"offset":0.108,"color":"#000"},{"offset":0.11,"color":"#fff"},{"offset":0.112,"color":"#000"},{"offset":0.116,"color":"#000"},{"offset":0.118,"color":"#fff"},{"offset":0.12,"color":"#000"},{"offset":0.124,"color":"#000"},{"offset":0.126,"color":"#fff"},{"offset":0.128,"color":"#000"},{"offset":0.132,"color":"#000"},{"offset":0.134,"color":"#fff"},{"offset":0.136,"color":"#000"},{"offset":0.14,"color":"#000"},{"offset":0.142,"color":"#fff"},{"offset":0.144,"color":"#000"},{"offset":0.148,"color":"#000"},{"offset":0.15,"color":"#fff"},{"offset":0.152,"color":"#000"},{"offset":0.156,"color":"#000"},{"offset":0.158,"color":"#fff"},{"offset":0.16,"color":"#000"},{"offset":0.164,"color":"#000"},{"offset":0.166,"color":"#fff"},{"offset":0.168,"color":"#000"},{"offset":0.172,"color":"#000"},{"offset":0.174,"color":"#fff"},{"offset":0.176,"color":"#000"},{"offset":0.18,"color":"#000"},{"offset":0.182,"color":"#fff"},{"offset":0.184,"color":"#000"},{"offset":0.188,"color":"#000"},{"offset":0.19,"color":"#fff"},{"offset":0.192,"color":"#000"},{"offset":0.196,"color":"#000"},{"offset":0.198,"color":"#fff"},
{"offset":0.2,"color":"#000"},{"offset":0.204,"color":"#000"},{"offset":0.206,"color":"#fff"},{"offset":0.208,"color":"#000"},{"offset":0.212,"color":"#000"},{"offset":0.214,"color":"#fff"},{"offset":0.216,"color":"#000"},{"offset":0.22,"color":"#000"},{"offset":0.222,"color":"#fff"},{"offset":0.224,"color":"#000"},{"offset":0.228,"color":"#000"},{"offset":0.23,"color":"#fff"},{"offset":0.232,"color":"#000"},{"offset":0.236,"color":"#000"},{"offset":0.238,"color":"#fff"},{"offset":0.24,"color":"#000"},{"offset":0.244,"color":"#000"},{"offset":0.246,"color":"#fff"},{"offset":0.248,"color":"#000"},{"offset":0.252,"color":"#000"},{"offset":0.254,"color":"#fff"},{"offset":0.256,"color":"#000"},{"offset":0.26,"color":"#000"},{"offset":0.262,"color":"#fff"},{"offset":0.264,"color":"#000"},{"offset":0.268,"color":"#000"},{"offset":0.27,"color":"#fff"},{"offset":0.272,"color":"#000"},{"offset":0.276,"color":"#000"},{"offset":0.278,"color":"#fff"},{"offset":0.28,"color":"#000"},{"offset":0.284,"color":"#000"},{"offset":0.286,"color":"#fff"},{"offset":0.288,"color":"#000"},{"offset":0.292,"color":"#000"},{"offset":0.294,"color":"#fff"},{"offset":0.296,"color":"#000"},{"offset":0.3,"color":"#000"},{"offset":0.302,"color":"#fff"},{"offset":0.304,"color":"#000"},{"offset":0.308,"color":"#000"},{"offset":0.31,"color":"#fff"},{"offset":0.312,"color":"#000"},{"offset":0.316,"color":"#000"},{"offset":0.318,"color":"#fff"},{"offset":0.32,"color":"#000"},{"offset":0.324,"color":"#000"},{"offset":0.326,"color":"#fff"},{"offset":0.328,"color":"#000"},{"offset":0.332,"color":"#000"},{"offset":0.334,"color":"#fff"},{"offset":0.336,"color":"#000"},{"offset":0.34,"color":"#000"},{"offset":0.342,"color":"#fff"},{"offset":0.344,"color":"#000"},{"offset":0.348,"color":"#000"},{"offset":0.35,"color":"#fff"},{"offset":0.352,"color":"#000"},{"offset":0.356,"color":"#000"},{"offset":0.358,"color":"#fff"},{"offset":0.36,"color":"#000"},{"offset":0.364,"color":"#000"},{"offset":0.366,"color":"#fff"},{"offset":0.368,"color":"#000"},{"offset":0.372,"color":"#000"},{"offset":0.374,"color":"#fff"},{"offset":0.376,"color":"#000"},{"offset":0.38,"color":"#000"},{"offset":0.382,"color":"#fff"},{"offset":0.384,"color":"#000"},{"offset":0.388,"color":"#000"},{"offset":0.39,"color":"#fff"},{"offset":0.392,"color":"#000"},{"offset":0.396,"color":"#000"},{"offset":0.398,"color":"#fff"},
{"offset":0.4,"color":"#000"},{"offset":0.404,"color":"#000"},{"offset":0.406,"color":"#fff"},{"offset":0.408,"color":"#000"},{"offset":0.412,"color":"#000"},{"offset":0.414,"color":"#fff"},{"offset":0.416,"color":"#000"},{"offset":0.42,"color":"#000"},{"offset":0.422,"color":"#fff"},{"offset":0.424,"color":"#000"},{"offset":0.428,"color":"#000"},{"offset":0.43,"color":"#fff"},{"offset":0.432,"color":"#000"},{"offset":0.436,"color":"#000"},{"offset":0.438,"color":"#fff"},{"offset":0.44,"color":"#000"},{"offset":0.444,"color":"#000"},{"offset":0.446,"color":"#fff"},{"offset":0.448,"color":"#000"},{"offset":0.452,"color":"#000"},{"offset":0.454,"color":"#fff"},{"offset":0.456,"color":"#000"},{"offset":0.46,"color":"#000"},{"offset":0.462,"color":"#fff"},{"offset":0.464,"color":"#000"},{"offset":0.468,"color":"#000"},{"offset":0.47,"color":"#fff"},{"offset":0.472,"color":"#000"},{"offset":0.476,"color":"#000"},{"offset":0.478,"color":"#fff"},{"offset":0.48,"color":"#000"},{"offset":0.484,"color":"#000"},{"offset":0.486,"color":"#fff"},{"offset":0.488,"color":"#000"},{"offset":0.492,"color":"#000"},{"offset":0.494,"color":"#fff"},{"offset":0.496,"color":"#000"},{"offset":0.5,"color":"#000"},{"offset":0.502,"color":"#fff"},{"offset":0.504,"color":"#000"},{"offset":0.508,"color":"#000"},{"offset":0.51,"color":"#fff"},{"offset":0.512,"color":"#000"},{"offset":0.516,"color":"#000"},{"offset":0.518,"color":"#fff"},{"offset":0.52,"color":"#000"},{"offset":0.524,"color":"#000"},{"offset":0.526,"color":"#fff"},{"offset":0.528,"color":"#000"},{"offset":0.532,"color":"#000"},{"offset":0.534,"color":"#fff"},{"offset":0.536,"color":"#000"},{"offset":0.54,"color":"#000"},{"offset":0.542,"color":"#fff"},{"offset":0.544,"color":"#000"},{"offset":0.548,"color":"#000"},{"offset":0.55,"color":"#fff"},{"offset":0.552,"color":"#000"},{"offset":0.556,"color":"#000"},{"offset":0.558,"color":"#fff"},{"offset":0.56,"color":"#000"},{"offset":0.564,"color":"#000"},{"offset":0.566,"color":"#fff"},{"offset":0.568,"color":"#000"},{"offset":0.572,"color":"#000"},{"offset":0.574,"color":"#fff"},{"offset":0.576,"color":"#000"},{"offset":0.58,"color":"#000"},{"offset":0.582,"color":"#fff"},{"offset":0.584,"color":"#000"},{"offset":0.588,"color":"#000"},{"offset":0.59,"color":"#fff"},{"offset":0.592,"color":"#000"},{"offset":0.596,"color":"#000"},{"offset":0.598,"color":"#fff"},
{"offset":0.6,"color":"#000"},{"offset":0.604,"color":"#000"},{"offset":0.606,"color":"#fff"},{"offset":0.608,"color":"#000"},{"offset":0.612,"color":"#000"},{"offset":0.614,"color":"#fff"},{"offset":0.616,"color":"#000"},{"offset":0.62,"color":"#000"},{"offset":0.622,"color":"#fff"},{"offset":0.624,"color":"#000"},{"offset":0.628,"color":"#000"},{"offset":0.63,"color":"#fff"},{"offset":0.632,"color":"#000"},{"offset":0.636,"color":"#000"},{"offset":0.638,"color":"#fff"},{"offset":0.64,"color":"#000"},{"offset":0.644,"color":"#000"},{"offset":0.646,"color":"#fff"},{"offset":0.648,"color":"#000"},{"offset":0.652,"color":"#000"},{"offset":0.654,"color":"#fff"},{"offset":0.656,"color":"#000"},{"offset":0.66,"color":"#000"},{"offset":0.662,"color":"#fff"},{"offset":0.664,"color":"#000"},{"offset":0.668,"color":"#000"},{"offset":0.67,"color":"#fff"},{"offset":0.672,"color":"#000"},{"offset":0.676,"color":"#000"},{"offset":0.678,"color":"#fff"},{"offset":0.68,"color":"#000"},{"offset":0.684,"color":"#000"},{"offset":0.686,"color":"#fff"},{"offset":0.688,"color":"#000"},{"offset":0.692,"color":"#000"},{"offset":0.694,"color":"#fff"},{"offset":0.696,"color":"#000"},{"offset":0.7,"color":"#000"},{"offset":0.702,"color":"#fff"},{"offset":0.704,"color":"#000"},{"offset":0.708,"color":"#000"},{"offset":0.71,"color":"#fff"},{"offset":0.712,"color":"#000"},{"offset":0.716,"color":"#000"},{"offset":0.718,"color":"#fff"},{"offset":0.72,"color":"#000"},{"offset":0.724,"color":"#000"},{"offset":0.726,"color":"#fff"},{"offset":0.728,"color":"#000"},{"offset":0.732,"color":"#000"},{"offset":0.734,"color":"#fff"},{"offset":0.736,"color":"#000"},{"offset":0.74,"color":"#000"},{"offset":0.742,"color":"#fff"},{"offset":0.744,"color":"#000"},{"offset":0.748,"color":"#000"},{"offset":0.75,"color":"#fff"},{"offset":0.752,"color":"#000"},{"offset":0.756,"color":"#000"},{"offset":0.758,"color":"#fff"},{"offset":0.76,"color":"#000"},{"offset":0.764,"color":"#000"},{"offset":0.766,"color":"#fff"},{"offset":0.768,"color":"#000"},{"offset":0.772,"color":"#000"},{"offset":0.774,"color":"#fff"},{"offset":0.776,"color":"#000"},{"offset":0.78,"color":"#000"},{"offset":0.782,"color":"#fff"},{"offset":0.784,"color":"#000"},{"offset":0.788,"color":"#000"},{"offset":0.79,"color":"#fff"},{"offset":0.792,"color":"#000"},{"offset":0.796,"color":"#000"},{"offset":0.798,"color":"#fff"},
{"offset":0.8,"color":"#000"},{"offset":0.804,"color":"#000"},{"offset":0.806,"color":"#fff"},{"offset":0.808,"color":"#000"},{"offset":0.812,"color":"#000"},{"offset":0.814,"color":"#fff"},{"offset":0.816,"color":"#000"},{"offset":0.82,"color":"#000"},{"offset":0.822,"color":"#fff"},{"offset":0.824,"color":"#000"},{"offset":0.828,"color":"#000"},{"offset":0.83,"color":"#fff"},{"offset":0.832,"color":"#000"},{"offset":0.836,"color":"#000"},{"offset":0.838,"color":"#fff"},{"offset":0.84,"color":"#000"},{"offset":0.844,"color":"#000"},{"offset":0.846,"color":"#fff"},{"offset":0.848,"color":"#000"},{"offset":0.852,"color":"#000"},{"offset":0.854,"color":"#fff"},{"offset":0.856,"color":"#000"},{"offset":0.86,"color":"#000"},{"offset":0.862,"color":"#fff"},{"offset":0.864,"color":"#000"},{"offset":0.868,"color":"#000"},{"offset":0.87,"color":"#fff"},{"offset":0.872,"color":"#000"},{"offset":0.876,"color":"#000"},{"offset":0.878,"color":"#fff"},{"offset":0.88,"color":"#000"},{"offset":0.884,"color":"#000"},{"offset":0.886,"color":"#fff"},{"offset":0.888,"color":"#000"},{"offset":0.892,"color":"#000"},{"offset":0.894,"color":"#fff"},{"offset":0.896,"color":"#000"},{"offset":0.9,"color":"#000"},{"offset":0.902,"color":"#fff"},{"offset":0.904,"color":"#000"},{"offset":0.908,"color":"#000"},{"offset":0.91,"color":"#fff"},{"offset":0.912,"color":"#000"},{"offset":0.916,"color":"#000"},{"offset":0.918,"color":"#fff"},{"offset":0.92,"color":"#000"},{"offset":0.924,"color":"#000"},{"offset":0.926,"color":"#fff"},{"offset":0.928,"color":"#000"},{"offset":0.932,"color":"#000"},{"offset":0.934,"color":"#fff"},{"offset":0.936,"color":"#000"},{"offset":0.94,"color":"#000"},{"offset":0.942,"color":"#fff"},{"offset":0.944,"color":"#000"},{"offset":0.948,"color":"#000"},{"offset":0.95,"color":"#fff"},{"offset":0.952,"color":"#000"},{"offset":0.956,"color":"#000"},{"offset":0.958,"color":"#fff"},{"offset":0.96,"color":"#000"},{"offset":0.964,"color":"#000"},{"offset":0.966,"color":"#fff"},{"offset":0.968,"color":"#000"},{"offset":0.972,"color":"#000"},{"offset":0.974,"color":"#fff"},{"offset":0.976,"color":"#000"},{"offset":0.98,"color":"#000"},{"offset":0.982,"color":"#fff"},{"offset":0.984,"color":"#000"},{"offset":0.988,"color":"#000"},{"offset":0.99,"color":"#fff"},{"offset":0.992,"color":"#000"},{"offset":0.996,"color":"#000"},{"offset":0.998,"color":"#fff"},
{"offset":1,"color":"#000"}
    ]}}, "encoding": {"y": {"datum": 4.425, "type": "quantitative", "title": "Stride length asymmetry (%)", "scale": {"domain": [0, 4.45], "nice": false}, "axis": {"values": [0,1,2,3,4], "format": ".2f", "titlePadding": 26}}, "y2": {"datum": 0}}},
    {"transform": [{"filter": "datum.cond === 'OFF'"}], "mark": {"type": "bar", "width": 31, "color": "#f0f0f0"}, "encoding": {"y": {"field": "mean", "type": "quantitative", "title": "Stride length asymmetry (%)"}, "y2": {"datum": 4.436}}},
    {"transform": [{"filter": "datum.cond === 'OFF'"}], "mark": {"type": "bar", "width": 29, "fillOpacity": 0, "stroke": "#111", "strokeWidth": 1}, "encoding": {"y": {"field": "mean", "type": "quantitative", "title": "Stride length asymmetry (%)"}}},
    {"transform": [{"filter": "datum.cond === 'ON'"}], "mark": {"type": "bar", "width": 29, "xOffset": 29, "stroke": "#111", "strokeWidth": 1, "color": {"gradient": "linear", "x1": 0, "y1": 0, "x2": 1, "y2": 0, "stops": [
{"offset":0,"color":"#fff"},{"offset":0.049,"color":"#fff"},{"offset":0.069,"color":"#c2c2c2"},{"offset":0.089,"color":"#fff"},{"offset":0.17,"color":"#fff"},{"offset":0.19,"color":"#c2c2c2"},{"offset":0.21,"color":"#fff"},{"offset":0.29,"color":"#fff"},{"offset":0.31,"color":"#c2c2c2"},{"offset":0.33,"color":"#fff"},{"offset":0.411,"color":"#fff"},{"offset":0.431,"color":"#c2c2c2"},{"offset":0.451,"color":"#fff"},{"offset":0.532,"color":"#fff"},{"offset":0.552,"color":"#c2c2c2"},{"offset":0.572,"color":"#fff"},{"offset":0.652,"color":"#fff"},{"offset":0.672,"color":"#c2c2c2"},{"offset":0.692,"color":"#fff"},{"offset":0.773,"color":"#fff"},{"offset":0.793,"color":"#c2c2c2"},{"offset":0.813,"color":"#fff"},{"offset":0.894,"color":"#fff"},{"offset":0.914,"color":"#c2c2c2"},{"offset":0.934,"color":"#fff"},{"offset":1,"color":"#fff"}
    ]}}, "encoding": {"y": {"field": "mean", "type": "quantitative", "title": "Stride length asymmetry (%)"}}},
    {"transform": [{"filter": "datum.cond === 'OFF'"}], "mark": {"type": "rule", "color": "#333", "strokeWidth": 1}, "encoding": {"y": {"field": "lo", "type": "quantitative", "title": "Stride length asymmetry (%)"}, "y2": {"field": "hi"}}},
    {"transform": [{"filter": "datum.cond === 'OFF'"}], "mark": {"type": "tick", "orient": "horizontal", "size": 8, "thickness": 1, "color": "#333"}, "encoding": {"y": {"field": "hi", "type": "quantitative", "title": "Stride length asymmetry (%)"}}},
    {"transform": [{"filter": "datum.cond === 'OFF'"}], "mark": {"type": "tick", "orient": "horizontal", "size": 8, "thickness": 1, "color": "#333"}, "encoding": {"y": {"field": "lo", "type": "quantitative", "title": "Stride length asymmetry (%)"}}},
    {"transform": [{"filter": "datum.cond === 'ON'"}], "mark": {"type": "rule", "color": "#333", "strokeWidth": 1, "xOffset": 29}, "encoding": {"y": {"field": "lo", "type": "quantitative", "title": "Stride length asymmetry (%)"}, "y2": {"field": "hi"}}},
    {"transform": [{"filter": "datum.cond === 'ON'"}], "mark": {"type": "tick", "orient": "horizontal", "size": 8, "thickness": 1, "color": "#333", "xOffset": 29}, "encoding": {"y": {"field": "hi", "type": "quantitative", "title": "Stride length asymmetry (%)"}}},
    {"transform": [{"filter": "datum.cond === 'ON'"}], "mark": {"type": "tick", "orient": "horizontal", "size": 8, "thickness": 1, "color": "#333", "xOffset": 29}, "encoding": {"y": {"field": "lo", "type": "quantitative", "title": "Stride length asymmetry (%)"}}},
    {"data": {"name": "sig"}, "transform": [{"filter": "datum.panel === 'C'"}], "mark": {"type": "tick", "orient": "horizontal", "size": 39, "thickness": 1, "color": "#333", "xOffset": 20}, "encoding": {"y": {"field": "line", "type": "quantitative", "title": "Stride length asymmetry (%)"}}},
    {"data": {"name": "sig"}, "transform": [{"filter": "datum.panel === 'C'"}], "mark": {"type": "text", "font": "Liberation Sans", "fontSize": 12, "baseline": "alphabetic", "color": "#222", "xOffset": 19}, "encoding": {"y": {"field": "star", "type": "quantitative", "title": "Stride length asymmetry (%)"}, "text": {"field": "label"}}},
    {"mark": {"type": "point", "filled": true, "size": 0, "color": "#111", "opacity": 1}, "encoding": {"shape": {"field": "cond", "type": "nominal", "scale": {"domain": ["OFF","ON"], "range": ["M-1,-1H1V1H-1Z M-1,0.05L-1,0.45L0.45,-1L0.05,-1Z M1,-0.55L-0.55,1L-0.15,1L1,-0.15Z", "M-1,-1H1V1H-1Z M-0.72,-0.82V0.8H0.84V-0.82Z M-0.72,-0.1H-0.45V0.2H-0.72Z M0.3,-0.5H0.48V-0.2H0.3Z M0.3,0.15H0.48V0.5H0.3Z"]}}}}
   ]
  }
 ], "spacing": 20, "resolve": {"scale": {"shape": "independent"}, "legend": {"shape": "independent"}}}
]
}
